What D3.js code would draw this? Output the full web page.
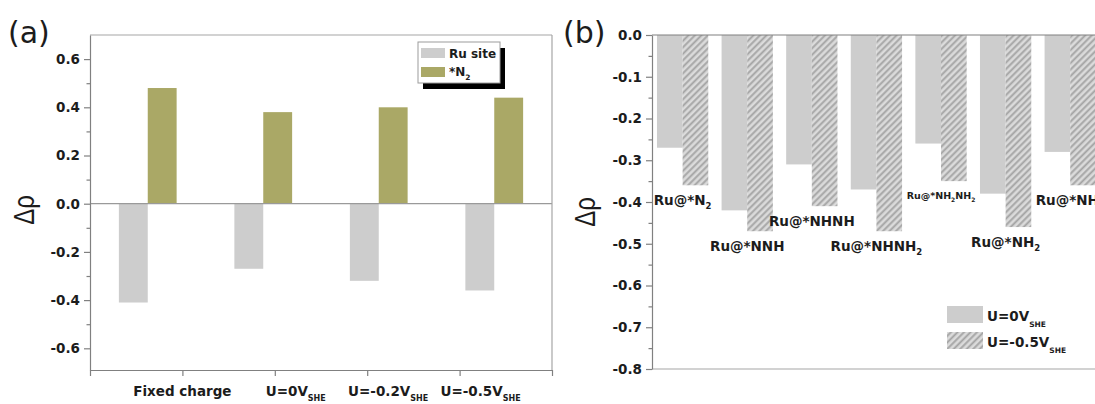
<!DOCTYPE html>
<html><head><meta charset="utf-8">
<script src="https://cdn.jsdelivr.net/npm/d3@7"></script>
<style>
body{margin:0;background:#fff}
svg{display:block}
text{font-family:"DejaVu Sans",sans-serif;fill:#1c1c1c}
</style>
</head><body>
<svg id="c" width="1095" height="404"></svg>
<script>
// ---------- data ----------
const categoriesA = ["Fixed charge", "U=0V_{SHE}", "U=-0.2V_{SHE}", "U=-0.5V_{SHE}"];
const ruSite = [-0.41, -0.27, -0.32, -0.36];
const starN2 = [0.48, 0.38, 0.40, 0.44];
const ticksA = [-0.6, -0.4, -0.2, 0.0, 0.2, 0.4, 0.6];
const minorA = [-0.5, -0.3, -0.1, 0.1, 0.3, 0.5];
const legendA = ["Ru site", "*N_{2}"];

const categoriesB = ["Ru@*N_{2}", "Ru@*NNH", "Ru@*NHNH", "Ru@*NHNH_{2}", "Ru@*NH_{2}NH_{2}", "Ru@*NH_{2}", "Ru@*NH_{3}"];
const u0V = [-0.27, -0.42, -0.31, -0.37, -0.26, -0.38, -0.28];
const u05V = [-0.36, -0.47, -0.41, -0.47, -0.35, -0.46, -0.36];
const ticksB = [0.0, -0.1, -0.2, -0.3, -0.4, -0.5, -0.6, -0.7, -0.8];
const minorB = [-0.05, -0.15, -0.25, -0.35, -0.45, -0.55, -0.65, -0.75];
const legendB = ["U=0V_{SHE}", "U=-0.5V_{SHE}"];

// ---------- helpers ----------
const svg = d3.select("#c");
const GRAY = "#cdcdcd", OLIVE = "#aaa866", AX = "#808080", AXL = "#a6a6a6";
const fmt = d => (Math.abs(d) < 1e-9 ? "0.0" : d.toFixed(1));

function rich(sel, str, size, subSize, subDy) {
  const re = /_\{([^}]*)\}|([^_]+)/g; let m, lastSub = false;
  sel.style("font-size", size + "px");
  while ((m = re.exec(str)) !== null) {
    if (m[1] !== undefined) {
      sel.append("tspan").attr("dy", subDy).style("font-size", subSize + "px").text(m[1]);
      lastSub = true;
    } else {
      sel.append("tspan").attr("dy", lastSub ? -subDy : 0).text(m[2]);
      lastSub = false;
    }
  }
  return sel;
}

const defs = svg.append("defs");
const pat = defs.append("pattern").attr("id", "hatch").attr("patternUnits", "userSpaceOnUse")
  .attr("width", 4.6).attr("height", 4.6).attr("patternTransform", "rotate(45)");
pat.append("rect").attr("width", 4.6).attr("height", 4.6).attr("fill", "#dbdbdb");
pat.append("line").attr("x1", 1.2).attr("x2", 1.2).attr("y1", 0).attr("y2", 4.6)
  .attr("stroke", "#a4a4a4").attr("stroke-width", 1.9);

// ---------- panel (a) ----------
const A = {l: 90, r: 552, t: 35, b: 370};
const yA = d3.scaleLinear().domain([-0.69, 0.70]).range([A.b, A.t]);
const xA = d3.scaleBand().domain(d3.range(categoriesA.length)).range([A.l, A.r]).paddingInner(0.5).paddingOuter(0.25);
const xTickA = d3.scaleLinear().domain([0, 5]).range([A.l, A.r]);
const gA = svg.append("g");
const bwA = xA.bandwidth() / 2;

gA.selectAll("rect.ru").data(ruSite).join("rect").attr("class", "ru")
  .attr("x", (d, i) => xA(i)).attr("width", bwA)
  .attr("y", d => yA(Math.max(0, d))).attr("height", d => Math.abs(yA(d) - yA(0)))
  .attr("fill", GRAY);
gA.selectAll("rect.n2").data(starN2).join("rect").attr("class", "n2")
  .attr("x", (d, i) => xA(i) + bwA).attr("width", bwA)
  .attr("y", d => yA(Math.max(0, d))).attr("height", d => Math.abs(yA(d) - yA(0)))
  .attr("fill", OLIVE);

// zero line
gA.append("line").attr("x1", A.l).attr("x2", A.r).attr("y1", yA(0)).attr("y2", yA(0))
  .attr("stroke", "#9a9a9a").attr("stroke-width", 1.2);
// frame top & right
gA.append("line").attr("x1", A.l).attr("x2", A.r).attr("y1", A.t).attr("y2", A.t).attr("stroke", AXL).attr("stroke-width", 1.2);
gA.append("line").attr("x1", A.r).attr("x2", A.r).attr("y1", A.t).attr("y2", A.b).attr("stroke", AXL).attr("stroke-width", 1.2);

function styleAxis(g) {
  g.select(".domain").attr("stroke", AX).attr("stroke-width", 1.2);
  g.selectAll(".tick line").attr("stroke", AX).attr("stroke-width", 1.2);
  g.selectAll(".tick text").style("font-size", "13.5px").style("font-weight", "bold")
    .style("font-family", "'DejaVu Sans',sans-serif").attr("fill", "#1c1c1c");
}
const axA = gA.append("g").attr("transform", `translate(${A.l},0)`)
  .call(d3.axisLeft(yA).tickValues(ticksA).tickSize(6).tickPadding(4).tickFormat(fmt).tickSizeOuter(0));
styleAxis(axA);
const axAm = gA.append("g").attr("transform", `translate(${A.l},0)`)
  .call(d3.axisLeft(yA).tickValues(minorA).tickSize(3.5).tickFormat("").tickSizeOuter(0));
styleAxis(axAm); axAm.select(".domain").remove();
const axAx = gA.append("g").attr("transform", `translate(0,${A.b})`)
  .call(d3.axisBottom(xTickA).tickValues(d3.range(6)).tickSize(6).tickFormat("").tickSizeOuter(0));
styleAxis(axAx);

categoriesA.forEach((c, i) => {
  const t = gA.append("text").attr("y", 396).style("font-weight", "bold");
  rich(t, c, 13.5, 8, 5);
  const mainW = t.select("tspan").node().getComputedTextLength();
  const hasSub = c.indexOf("_{") >= 0;
  t.attr("x", xTickA(i + 1) - mainW / 2 + (hasSub ? 12 : 0));
});

// legend (a)
const LA = {x: 418, y: 42, w: 82, h: 41};
gA.append("rect").attr("x", LA.x + 5).attr("y", LA.y + 6).attr("width", LA.w).attr("height", LA.h).attr("fill", "#000");
gA.append("rect").attr("x", LA.x).attr("y", LA.y).attr("width", LA.w).attr("height", LA.h)
  .attr("fill", "#fff").attr("stroke", "#9c9c9c").attr("stroke-width", 1);
[GRAY, OLIVE].forEach((col, i) => {
  gA.append("rect").attr("x", LA.x + 3).attr("y", LA.y + 6 + i * 19).attr("width", 24).attr("height", 10).attr("fill", col);
  const t = gA.append("text").attr("x", LA.x + 31).attr("y", LA.y + 16 + i * 18).style("font-weight", "bold");
  rich(t, legendA[i], 12, 7.5, 4);
});

// (a) label and axis title
svg.append("text").attr("x", 8).attr("y", 43).style("font-size", "30px").style("font-family", "'DejaVu Sans',sans-serif").attr("fill", "#111").text("(a)");
svg.append("text").attr("transform", "translate(34,210) scale(1.2,1) rotate(-90)")
  .attr("text-anchor", "middle").style("font-size", "24px").style("font-family", "'Liberation Sans',Arial,sans-serif").attr("fill", "#111").text("Δρ");

// ---------- panel (b) ----------
const B = {l: 652, t: 35, b: 369};
const yB = d3.scaleLinear().domain([-0.8, 0]).range([B.b, B.t]);
const stepB = 64.6;
const xB = d3.scaleBand().domain(d3.range(categoriesB.length))
  .range([B.l, B.l + stepB * (categoriesB.length - 0.206 + 2 * 0.077)]).paddingInner(0.206).paddingOuter(0.077);
const bwB = xB.bandwidth() / 2;
const gB = svg.append("g");

gB.selectAll("rect.u0").data(u0V).join("rect").attr("class", "u0")
  .attr("x", (d, i) => xB(i)).attr("width", bwB)
  .attr("y", yB(0)).attr("height", d => yB(d) - yB(0)).attr("fill", GRAY);
gB.selectAll("rect.u05").data(u05V).join("rect").attr("class", "u05")
  .attr("x", (d, i) => xB(i) + bwB).attr("width", bwB)
  .attr("y", yB(0)).attr("height", d => yB(d) - yB(0)).attr("fill", "url(#hatch)");

// frame lines
gB.append("line").attr("x1", B.l).attr("x2", 1095).attr("y1", B.t).attr("y2", B.t).attr("stroke", AX).attr("stroke-width", 1.2);
gB.append("line").attr("x1", B.l).attr("x2", 1095).attr("y1", B.b).attr("y2", B.b).attr("stroke", AXL).attr("stroke-width", 1.2);

const axB = gB.append("g").attr("transform", `translate(${B.l},0)`)
  .call(d3.axisLeft(yB).tickValues(ticksB).tickSize(6).tickPadding(4).tickFormat(fmt).tickSizeOuter(0));
styleAxis(axB);
const axBm = gB.append("g").attr("transform", `translate(${B.l},0)`)
  .call(d3.axisLeft(yB).tickValues(minorB).tickSize(3.5).tickFormat("").tickSizeOuter(0));
styleAxis(axBm); axBm.select(".domain").remove();

categoriesB.forEach((c, i) => {
  const small = c === "Ru@*NH_{2}NH_{2}";
  const low = Math.min(u0V[i], u05V[i]);
  const t = gB.append("text").attr("x", xB(i) + xB.bandwidth() / 2).attr("y", yB(low) + (small ? 18 : 20))
    .attr("text-anchor", "middle").style("font-weight", "bold");
  if (small) rich(t, c, 9.5, 6, 3); else rich(t, c, 13.5, 8.5, 4);
});

// legend (b)
const LB = {x: 947, y: 306};
["#cdcdcd", "url(#hatch)"].forEach((f, i) => {
  gB.append("rect").attr("x", LB.x).attr("y", LB.y + i * 26).attr("width", 36).attr("height", 17).attr("fill", f);
  const t = gB.append("text").attr("x", LB.x + 40).attr("y", LB.y + 15 + i * 26).style("font-weight", "bold");
  rich(t, legendB[i], 13.5, 7.5, 6);
});

svg.append("text").attr("x", 563).attr("y", 43).style("font-size", "30px").style("font-family", "'DejaVu Sans',sans-serif").attr("fill", "#111").text("(b)");
svg.append("text").attr("transform", "translate(595,212) scale(1.2,1) rotate(-90)")
  .attr("text-anchor", "middle").style("font-size", "24px").style("font-family", "'Liberation Sans',Arial,sans-serif").attr("fill", "#111").text("Δρ");
</script>
</body></html>
